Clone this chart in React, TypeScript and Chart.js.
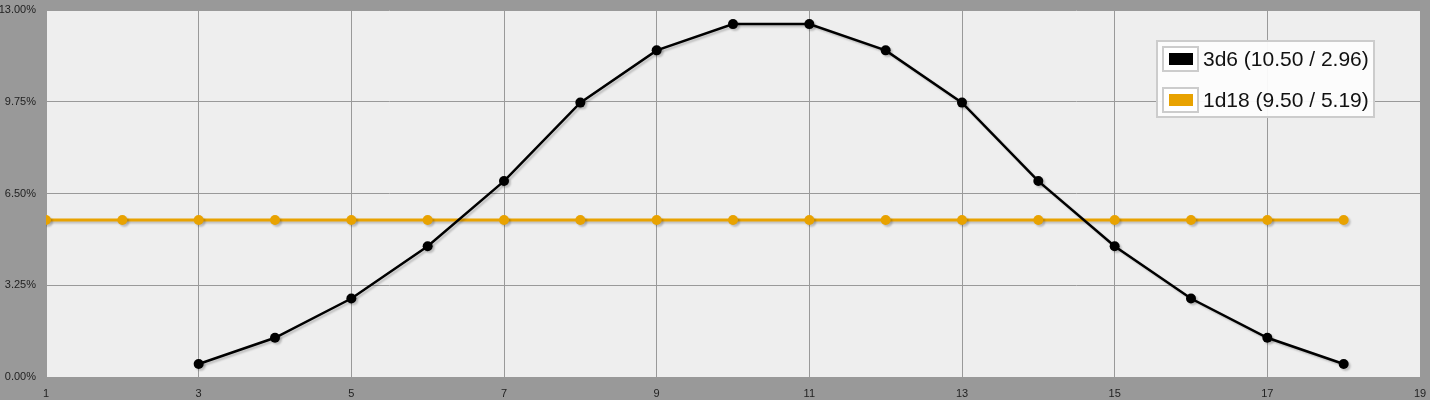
import { useEffect, useRef } from 'react';
import { Chart, registerables, Plugin } from 'chart.js';

Chart.register(...registerables);

// sums rolled (x axis)
const faces3d6 = [3, 4, 5, 6, 7, 8, 9, 10, 11, 12, 13, 14, 15, 16, 17, 18];
const faces1d18 = [1, 2, 3, 4, 5, 6, 7, 8, 9, 10, 11, 12, 13, 14, 15, 16, 17, 18];

// probability in percent
const values3d6 = [0.46, 1.39, 2.78, 4.63, 6.94, 9.72, 11.57, 12.5, 12.5, 11.57, 9.72, 6.94, 4.63, 2.78, 1.39, 0.46];
const values1d18 = [5.56, 5.56, 5.56, 5.56, 5.56, 5.56, 5.56, 5.56, 5.56, 5.56, 5.56, 5.56, 5.56, 5.56, 5.56, 5.56, 5.56, 5.56];

const seriesLabels = ['3d6 (10.50 / 2.96)', '1d18 (9.50 / 5.19)'];
const seriesColors = ['#000000', '#e8a200'];

const yTicks = [0, 3.25, 6.5, 9.75, 13];

const plotBackground: Plugin<'line'> = {
    id: 'plotBackground',
    beforeDraw(chart) {
        const { ctx, chartArea } = chart;
        ctx.save();
        ctx.fillStyle = '#eeeeee';
        ctx.fillRect(chartArea.left, chartArea.top, chartArea.right - chartArea.left, chartArea.bottom - chartArea.top);
        ctx.restore();
    },
};

const lineShadow: Plugin<'line'> = {
    id: 'lineShadow',
    beforeDatasetsDraw(chart) {
        const ctx = chart.ctx;
        ctx.save();
        ctx.shadowColor = 'rgba(0, 0, 0, 0.2)';
        ctx.shadowBlur = 2;
        ctx.shadowOffsetX = 2;
        ctx.shadowOffsetY = 2;
    },
    afterDatasetsDraw(chart) {
        chart.ctx.restore();
    },
};

const boxLegend: Plugin<'line'> = {
    id: 'boxLegend',
    afterDraw(chart) {
        const ctx = chart.ctx;
        const left = 1157;
        const top = 41;
        const width = 217;
        const height = 76;
        ctx.save();
        ctx.fillStyle = 'rgba(252, 252, 252, 0.95)';
        ctx.fillRect(left, top, width, height);
        ctx.strokeStyle = '#cccccc';
        ctx.lineWidth = 2;
        ctx.strokeRect(left, top, width, height);

        chart.data.datasets.forEach((ds, i) => {
            const rowTop = top + 6 + i * 41;
            ctx.fillStyle = '#ffffff';
            ctx.fillRect(left + 6, rowTop, 35, 24);
            ctx.strokeStyle = '#cccccc';
            ctx.lineWidth = 2;
            ctx.strokeRect(left + 6, rowTop, 35, 24);
            ctx.fillStyle = ds.borderColor as string;
            ctx.fillRect(left + 12, rowTop + 6, 24, 12);

            ctx.fillStyle = '#111111';
            ctx.font = '21px "Liberation Sans", Arial, sans-serif';
            ctx.textBaseline = 'middle';
            ctx.textAlign = 'left';
            ctx.fillText(ds.label as string, left + 46, rowTop + 13);
        });
        ctx.restore();
    },
};

// drop the label overflow padding so the plot area sits where we want it
const noPad = (scale: any) => {
    scale.paddingTop = 0;
    scale.paddingBottom = 0;
    scale.paddingLeft = 0;
    scale.paddingRight = 0;
};

export default function App() {
    const chartRef = useRef<HTMLCanvasElement | null>(null);
    const chartInstance = useRef<Chart<'line'> | null>(null);

    useEffect(() => {
        document.body.style.margin = '0';
        const ctx = chartRef.current?.getContext('2d');
        if (!ctx) return;
        if (chartInstance.current) chartInstance.current.destroy();

        chartInstance.current = new Chart(ctx, {
            type: 'line',
            data: {
                datasets: [
                    {
                        label: seriesLabels[0],
                        data: faces3d6.map((f, i) => ({ x: f, y: values3d6[i] })),
                        borderColor: seriesColors[0],
                        backgroundColor: seriesColors[0],
                        borderWidth: 2.5,
                        pointRadius: 5,
                        pointBorderWidth: 0,
                        tension: 0,
                    },
                    {
                        label: seriesLabels[1],
                        data: faces1d18.map((f, i) => ({ x: f, y: values1d18[i] })),
                        borderColor: seriesColors[1],
                        backgroundColor: seriesColors[1],
                        borderWidth: 3,
                        pointRadius: 5,
                        pointBorderWidth: 0,
                        tension: 0,
                    },
                ],
            },
            options: {
                responsive: false,
                animation: false,
                layout: { padding: { top: 10, right: 10, left: 0, bottom: 0 } },
                scales: {
                    x: {
                        type: 'linear',
                        min: 1,
                        max: 19,
                        afterFit: (scale) => {
                            scale.height = 23;
                            noPad(scale);
                        },
                        border: { display: false },
                        grid: { color: '#999999', lineWidth: 1, drawTicks: false },
                        ticks: {
                            stepSize: 2,
                            padding: 10,
                            color: '#222222',
                            font: { family: '"Liberation Sans", Arial, sans-serif', size: 11 },
                            maxRotation: 0,
                        },
                    },
                    y: {
                        min: 0,
                        max: 13,
                        afterFit: (scale) => {
                            scale.width = 46;
                            noPad(scale);
                        },
                        afterBuildTicks: (scale) => {
                            scale.ticks = yTicks.map((v) => ({ value: v }));
                        },
                        border: { display: false },
                        grid: { color: '#999999', lineWidth: 1, drawTicks: false },
                        ticks: {
                            padding: 10,
                            color: '#222222',
                            font: { family: '"Liberation Sans", Arial, sans-serif', size: 11 },
                            callback: (v) => Number(v).toFixed(2) + '%',
                        },
                    },
                },
                plugins: {
                    legend: { display: false },
                    tooltip: { enabled: false },
                },
            },
            plugins: [plotBackground, lineShadow, boxLegend],
        });

        return () => {
            if (chartInstance.current) {
                chartInstance.current.destroy();
                chartInstance.current = null;
            }
        };
    }, []);

    return (
        <div style={{ width: 1430, height: 400, background: '#999999' }}>
            <canvas ref={chartRef} width={1430} height={400}></canvas>
        </div>
    );
}
